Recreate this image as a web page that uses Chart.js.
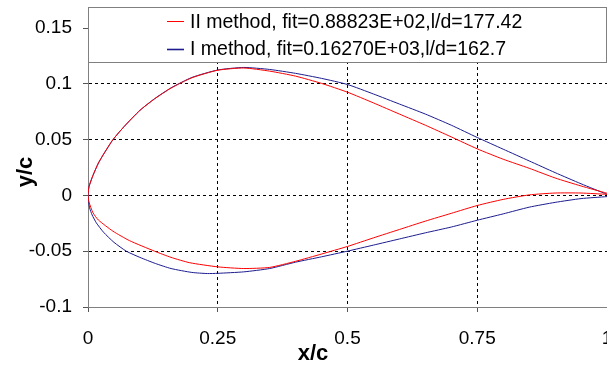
<!DOCTYPE html>
<html>
<head>
<meta charset="utf-8">
<script src="https://cdn.jsdelivr.net/npm/chart.js@4/dist/chart.umd.min.js"></script>
<style>
html,body{margin:0;padding:0;background:#fff;}
#wrap{width:607px;height:367px;position:relative;}
</style>
</head>
<body>
<div id="wrap"><canvas id="c" width="607" height="367"></canvas></div>
<script>
// ---- data ----
const xTicks = [0, 0.25, 0.5, 0.75, 1];
const yTicks = [-0.1, -0.05, 0, 0.05, 0.1, 0.15];
const seriesNames = [
  "II method, fit=0.88823E+02,l/d=177.42",
  "I method, fit=0.16270E+03,l/d=162.7"
];
const axisTitles = ["x/c", "y/c"];

// II method (red): trailing edge -> upper surface -> leading edge -> lower surface -> trailing edge
const xII = [1, 0.95, 0.9, 0.85, 0.8, 0.75, 0.7, 0.65, 0.6, 0.55, 0.5, 0.45, 0.4, 0.35, 0.3, 0.25, 0.2, 0.16, 0.128, 0.1, 0.07, 0.048, 0.03, 0.02, 0.0096, 0.002, 0,
             0.002, 0.0096, 0.02, 0.048, 0.08, 0.128, 0.16, 0.196, 0.25, 0.3, 0.35, 0.4, 0.45, 0.5, 0.55, 0.6, 0.65, 0.7, 0.75, 0.8, 0.85, 0.9, 0.95, 1];
const yII = [0.002, 0.0085, 0.0157, 0.0244, 0.0325, 0.0418, 0.0525, 0.063, 0.073, 0.083, 0.0926, 0.1005, 0.107, 0.1115, 0.1143, 0.1123, 0.1055, 0.0963, 0.0865, 0.0763, 0.062, 0.050, 0.037, 0.029, 0.018, 0.008, 0,
             -0.006, -0.0155, -0.022, -0.032, -0.0405, -0.0499, -0.0555, -0.0603, -0.064, -0.0655, -0.0645, -0.059, -0.0525, -0.0457, -0.038, -0.0305, -0.023, -0.016, -0.009, -0.0035, 0.0005, 0.0022, 0.0022, 0.001];

// I method (blue)
const xI = [1, 0.95, 0.9, 0.85, 0.8, 0.75, 0.7, 0.65, 0.6, 0.55, 0.5, 0.45, 0.4, 0.35, 0.3, 0.25, 0.2, 0.16, 0.128, 0.1, 0.07, 0.048, 0.03, 0.02, 0.0096, 0.002, 0,
            0.003, 0.008, 0.016, 0.03, 0.05, 0.074, 0.1, 0.13, 0.16, 0.2, 0.23, 0.25, 0.3, 0.35, 0.4, 0.45, 0.5, 0.55, 0.6, 0.65, 0.7, 0.75, 0.8, 0.85, 0.9, 0.95, 1];
const yI = [0.001, 0.0105, 0.0205, 0.031, 0.0415, 0.052, 0.063, 0.073, 0.082, 0.091, 0.0995, 0.105, 0.1095, 0.113, 0.1148, 0.1125, 0.1058, 0.0965, 0.0867, 0.0763, 0.062, 0.050, 0.037, 0.029, 0.018, 0.008, 0,
            -0.011, -0.0175, -0.0245, -0.033, -0.042, -0.050, -0.0555, -0.061, -0.0655, -0.069, -0.070, -0.0698, -0.0685, -0.0655, -0.0598, -0.055, -0.0499, -0.0445, -0.039, -0.0335, -0.0283, -0.0222, -0.0165, -0.0105, -0.0062, -0.0028, -0.001];

const seriesColors = ["#ff0000", "#1c1c8e"];

function pts(xs, ys) { return xs.map((x, i) => ({x: x, y: ys[i]})); }

const FONT = "'Liberation Sans', Arial, sans-serif";

const legendBox = {
  id: 'legendBox',
  afterDatasetsDraw(chart) {
    const ctx = chart.ctx;
    const ca = chart.chartArea;
    const top = Math.round(ca.top) + 0.5, bottom = 62.5;
    const left = Math.round(ca.left) + 0.5, right = 606.5;
    ctx.save();
    ctx.fillStyle = '#fff';
    ctx.fillRect(left, top, right - left, bottom - top);
    ctx.strokeStyle = '#808080';
    ctx.lineWidth = 1;
    ctx.strokeRect(left, top, right - left, bottom - top);
    const rows = [21, 48.5];
    chart.data.datasets.forEach((ds, i) => {
      const y = rows[i];
      ctx.strokeStyle = ds.borderColor;
      ctx.lineWidth = i === 0 ? 1 : 1.6;
      ctx.beginPath();
      ctx.moveTo(167, Math.round(y) + 0.5);
      ctx.lineTo(184, Math.round(y) + 0.5);
      ctx.stroke();
      ctx.fillStyle = '#000';
      ctx.font = '19.5px ' + FONT;
      ctx.textBaseline = 'middle';
      ctx.textAlign = 'left';
      ctx.fillText(ds.label, 190, y + 1.5);
    });
    ctx.restore();
  },
  afterDraw(chart) {
    const ctx = chart.ctx;
    ctx.save();
    ctx.fillStyle = '#000';
    ctx.font = 'bold 22px ' + FONT;
    ctx.textAlign = 'center';
    ctx.textBaseline = 'middle';
    ctx.fillText(axisTitles[0], 313, 354);
    ctx.translate(26, 172);
    ctx.rotate(-Math.PI / 2);
    ctx.fillText(axisTitles[1], 0, 0);
    ctx.restore();
  }
};

new Chart(document.getElementById('c'), {
  type: 'scatter',
  data: {
    datasets: [
      { label: seriesNames[0], data: pts(xII, yII), showLine: true, borderColor: seriesColors[0], borderWidth: 1, pointRadius: 0, tension: 0.2, fill: false },
      { label: seriesNames[1], data: pts(xI, yI), showLine: true, borderColor: seriesColors[1], borderWidth: 1, pointRadius: 0, tension: 0.2, fill: false }
    ]
  },
  options: {
    responsive: false,
    animation: false,
    devicePixelRatio: 1,
    layout: { padding: { top: 7, left: 0, right: 0, bottom: 0 } },
    plugins: { legend: { display: false }, tooltip: { enabled: false } },
    scales: {
      x: {
        type: 'linear', min: 0, max: 1,
        afterBuildTicks: s => { s.ticks = xTicks.map(v => ({value: v})); },
        afterFit: s => { s.height = 60; s.paddingLeft = 0; s.paddingRight = 0; },
        border: { color: '#808080', width: 1, dash: [3, 3] },
        grid: {
          color: c => (c.tick && c.tick.value > 0 && c.tick.value < 1) ? '#000' : 'rgba(0,0,0,0)',
          tickLength: 5, tickColor: '#555', tickBorderDash: [], drawOnChartArea: true
        },
        ticks: { color: '#000', font: { family: FONT, size: 19 }, padding: 15, maxRotation: 0, autoSkip: false,
                 callback: v => String(v) }
      },
      y: {
        type: 'linear', min: -0.1, max: 0.169,
        afterBuildTicks: s => { s.ticks = yTicks.map(v => ({value: v})); },
        afterFit: s => { s.width = 88; s.paddingTop = 0; s.paddingBottom = 0; },
        border: { color: '#808080', width: 1, dash: [3, 3] },
        grid: {
          color: c => (c.tick && c.tick.value > -0.1) ? '#000' : 'rgba(0,0,0,0)',
          tickLength: 5, tickColor: '#555', tickBorderDash: []
        },
        ticks: { color: '#000', font: { family: FONT, size: 19 }, padding: 11, autoSkip: false,
                 callback: v => String(v) }
      }
    }
  },
  plugins: [legendBox]
});
</script>
</body>
</html>
